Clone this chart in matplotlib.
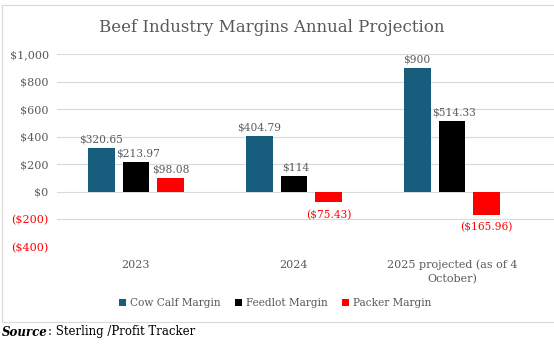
import matplotlib
matplotlib.use("Agg")
import matplotlib.pyplot as plt
from matplotlib.patches import Rectangle
import numpy as np

plt.rcParams['font.family'] = ['DejaVu Serif']

categories = ["2023", "2024", "2025 projected (as of 4\nOctober)"]
cow_calf = [320.65, 404.79, 900]
feedlot = [213.97, 114, 514.33]
packer = [98.08, -75.43, -165.96]
cow_lbl = ["$320.65", "$404.79", "$900"]
feed_lbl = ["$213.97", "$114", "$514.33"]
pack_lbl = ["$98.08", "($75.43)", "($165.96)"]
yticks = [-400, -200, 0, 200, 400, 600, 800, 1000]
ytick_lbl = ["($400)", "($200)", "$0", "$200", "$400", "$600", "$800", "$1,000"]

grey = "#595959"
blue = "#175E7E"
red = "#ff0000"

fig = plt.figure(figsize=(5.54, 3.46), dpi=100)
W, H = 554, 346
# chart frame
fig.patches.append(Rectangle((2 / W, 1 - 322 / H), 560 / W, 317 / H,
                             transform=fig.transFigure, fill=False,
                             edgecolor="#d9d9d9", lw=0.8))

ax = fig.add_axes([57 / W, 1 - 247 / H, 497 / W, 193 / H])
x = np.arange(len(categories))
w = 0.17
off = 0.22
b1 = ax.bar(x - off, cow_calf, w, color=blue, label="Cow Calf Margin", zorder=2)
b2 = ax.bar(x, feedlot, w, color="black", label="Feedlot Margin", zorder=2)
b3 = ax.bar(x + off, packer, w, color=red, label="Packer Margin", zorder=2)

fs = 7.7
for i in range(len(categories)):
    ax.text(x[i] - off, cow_calf[i] + 25, cow_lbl[i], ha="center", va="bottom",
            fontsize=fs, color=grey)
    ax.text(x[i] + 0.01, feedlot[i] + 25, feed_lbl[i], ha="center", va="bottom",
            fontsize=fs, color=grey)
    if packer[i] >= 0:
        ax.text(x[i] + off, packer[i] + 25, pack_lbl[i], ha="center", va="bottom",
                fontsize=fs, color=grey)
    else:
        ax.text(x[i] + off, packer[i] - 55, pack_lbl[i], ha="center", va="top",
                fontsize=fs, color=red)

ax.set_xlim(-0.5, 2.646)
ax.set_ylim(-400, 1000)
ax.set_yticks(yticks)
ax.set_yticklabels(ytick_lbl, fontsize=8)
for t, v in zip(ax.get_yticklabels(), yticks):
    t.set_color(red if v < 0 else grey)
ax.set_xticks(x)
ax.set_xticklabels(categories, fontsize=8, color=grey, linespacing=1.5)
ax.tick_params(axis="y", length=0, pad=6)
ax.tick_params(axis="x", length=0, pad=9)
ax.grid(axis="y", color="#d9d9d9", lw=0.8, zorder=0)
for s in ax.spines.values():
    s.set_visible(False)

fig.text(0.49, 1 - 27 / H, "Beef Industry Margins Annual Projection",
         ha="center", va="center", fontsize=12, color=grey)
fig.legend(handles=[b1, b2, b3], loc="center", bbox_to_anchor=(275 / W, 1 - 303 / H),
           ncol=3, frameon=False, fontsize=7.6, handlelength=0.7, handleheight=0.7,
           handletextpad=0.3, columnspacing=1.4, labelcolor=grey)

src = fig.text(2 / W, 1 - 332 / H, "Source", ha="left", va="center",
               fontsize=8.5, color="black", fontweight="bold", fontstyle="italic")
fig.canvas.draw()
bb = src.get_window_extent()
fig.text(bb.x1 / W, 1 - 332 / H, ": Sterling /Profit Tracker", ha="left",
         va="center", fontsize=8.5, color="black")

fig.savefig("out.png", dpi=100)
